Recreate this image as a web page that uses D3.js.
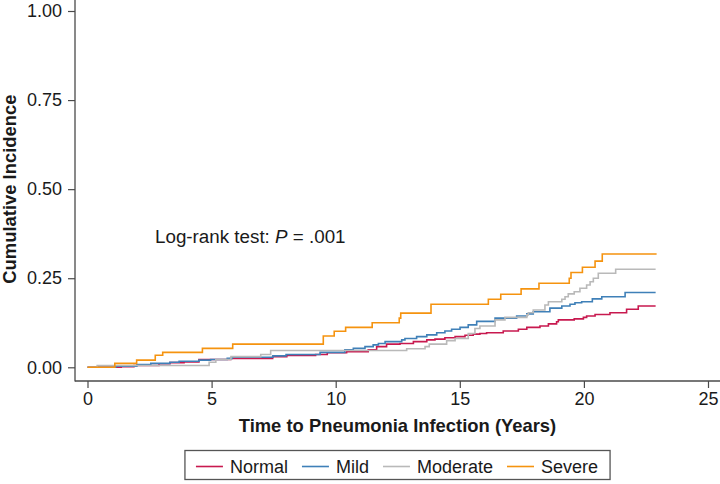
<!DOCTYPE html>
<html>
<head>
<meta charset="utf-8">
<script src="https://cdn.jsdelivr.net/npm/d3@7"></script>
<style>
  html, body { margin: 0; padding: 0; background: #fff; }
  svg { display: block; }
  text { font-family: "Liberation Sans", Arial, Helvetica, sans-serif; fill: #1a1a1a; }
</style>
</head>
<body>
<svg id="chart" width="720" height="484"></svg>
<script>
// ---- Data ----
const seriesNames = ["Normal", "Mild", "Moderate", "Severe"];
const seriesColors = ["#c8194f", "#3f80b8", "#b9b9b9", "#f5930f"];

const normalTimes  = [0, 1.36, 1.87, 2.88, 3.32, 3.89, 4.49, 5.77, 7.46, 8.03, 9.19, 9.66, 10.44, 11.31, 11.65, 12.05, 12.59, 13.13, 13.67, 14.00, 14.40, 14.81, 15.21, 15.54, 15.81, 16.08, 16.75, 17.36, 17.70, 18.23, 18.57, 18.90, 18.97, 19.61, 19.98, 20.11, 20.45, 21.05, 21.72, 22.19, 22.89];
const normalValues = [0, 0.002, 0.005, 0.010, 0.013, 0.015, 0.022, 0.025, 0.030, 0.033, 0.036, 0.041, 0.044, 0.049, 0.058, 0.065, 0.067, 0.072, 0.077, 0.079, 0.083, 0.086, 0.090, 0.093, 0.095, 0.097, 0.102, 0.107, 0.112, 0.116, 0.122, 0.128, 0.133, 0.136, 0.140, 0.144, 0.148, 0.153, 0.163, 0.172, 0.172];

const mildTimes  = [0, 1.14, 1.99, 2.55, 3.32, 3.69, 4.49, 4.96, 5.63, 5.83, 7.47, 8.00, 9.37, 10.37, 10.71, 11.18, 11.51, 11.72, 11.99, 12.66, 12.79, 13.26, 13.67, 14.07, 14.40, 14.67, 15.01, 15.34, 15.68, 16.42, 17.29, 17.70, 17.96, 18.63, 19.11, 19.44, 19.64, 19.91, 20.34, 20.72, 21.66, 22.89];
const mildValues = [0, 0.003, 0.008, 0.011, 0.014, 0.017, 0.020, 0.022, 0.025, 0.028, 0.032, 0.036, 0.042, 0.049, 0.053, 0.058, 0.063, 0.067, 0.072, 0.077, 0.081, 0.086, 0.091, 0.097, 0.102, 0.107, 0.112, 0.119, 0.129, 0.138, 0.144, 0.150, 0.156, 0.166, 0.172, 0.177, 0.181, 0.184, 0.192, 0.198, 0.210, 0.210];

const moderateTimes  = [0, 0.39, 4.90, 5.17, 5.78, 6.98, 7.38, 12.86, 13.60, 13.77, 14.47, 14.81, 15.34, 15.61, 15.81, 16.42, 16.82, 17.70, 17.76, 17.96, 18.43, 18.57, 19.11, 19.24, 19.37, 19.61, 19.84, 20.11, 20.25, 20.38, 20.58, 21.28, 22.89];
const moderateValues = [0, 0.005, 0.014, 0.022, 0.030, 0.036, 0.047, 0.052, 0.058, 0.065, 0.075, 0.081, 0.095, 0.109, 0.116, 0.133, 0.140, 0.147, 0.153, 0.161, 0.175, 0.184, 0.191, 0.198, 0.206, 0.212, 0.222, 0.231, 0.240, 0.250, 0.264, 0.275, 0.275];

const severeTimes  = [0, 1.10, 1.98, 2.73, 3.03, 4.63, 5.85, 9.50, 9.94, 10.40, 11.47, 12.56, 12.62, 13.84, 16.15, 16.65, 17.47, 18.19, 19.41, 19.48, 19.94, 20.45, 20.74, 22.93];
const severeValues = [0, 0.011, 0.020, 0.034, 0.042, 0.053, 0.065, 0.088, 0.101, 0.112, 0.125, 0.138, 0.152, 0.177, 0.191, 0.205, 0.220, 0.236, 0.250, 0.266, 0.281, 0.298, 0.318, 0.318];

const xTicks = [0, 5, 10, 15, 20, 25];
const yTicks = [0, 0.25, 0.5, 0.75, 1];
const xTitle = "Time to Pneumonia Infection (Years)";
const yTitle = "Cumulative Incidence";

// ---- Build series table ----
const seriesTimes = [normalTimes, mildTimes, moderateTimes, severeTimes];
const seriesValues = [normalValues, mildValues, moderateValues, severeValues];
const series = seriesNames.map((name, i) => ({
  name, color: seriesColors[i],
  points: seriesTimes[i].map((t, j) => ({ t, v: seriesValues[i][j] }))
}));

// ---- Layout ----
const svg = d3.select("#chart");
const frame = { left: 75, right: 720, top: 0, bottom: 381 };
const x = d3.scaleLinear().domain([0, 25]).range([87.5, 708]);
const y = d3.scaleLinear().domain([0, 1]).range([367.3, 11]);
const axisColor = "#4a4a4a";

// axis lines
svg.append("line").attr("x1", frame.left).attr("x2", frame.left)
  .attr("y1", frame.top).attr("y2", frame.bottom + 0.5)
  .attr("stroke", axisColor).attr("stroke-width", 1.3);
svg.append("line").attr("x1", frame.left).attr("x2", frame.right)
  .attr("y1", frame.bottom).attr("y2", frame.bottom)
  .attr("stroke", axisColor).attr("stroke-width", 1.3);

// y axis ticks
const yAxis = d3.axisLeft(y).tickValues(yTicks).tickFormat(d3.format(".2f"))
  .tickSize(7).tickPadding(6);
const gy = svg.append("g").attr("transform", `translate(${frame.left},0)`).call(yAxis);
gy.select(".domain").remove();
gy.selectAll(".tick line").attr("stroke", axisColor).attr("stroke-width", 1.2);
gy.selectAll(".tick text").attr("font-size", 18).attr("fill", "#1a1a1a")
  .attr("font-family", "Liberation Sans, Arial, sans-serif");

// x axis ticks
const xAxis = d3.axisBottom(x).tickValues(xTicks).tickFormat(d3.format("d"))
  .tickSize(7).tickPadding(4);
const gx = svg.append("g").attr("transform", `translate(0,${frame.bottom})`).call(xAxis);
gx.select(".domain").remove();
gx.selectAll(".tick line").attr("stroke", axisColor).attr("stroke-width", 1.2);
gx.selectAll(".tick text").attr("font-size", 18).attr("fill", "#1a1a1a")
  .attr("font-family", "Liberation Sans, Arial, sans-serif");

// axis titles
svg.append("text").attr("x", (frame.left + frame.right) / 2).attr("y", 432)
  .attr("text-anchor", "middle").attr("font-size", 18.4).attr("font-weight", "bold")
  .text(xTitle);
svg.append("text")
  .attr("transform", `translate(16,${(y(0) + y(1)) / 2}) rotate(-90)`)
  .attr("text-anchor", "middle").attr("font-size", 18.4).attr("font-weight", "bold")
  .text(yTitle);

// curves
const line = d3.line().x(d => x(d.t)).y(d => y(d.v)).curve(d3.curveStepAfter);
svg.append("g").selectAll("path").data(series).join("path")
  .attr("d", d => line(d.points))
  .attr("fill", "none")
  .attr("stroke", d => d.color)
  .attr("stroke-width", 1.6);

// annotation
const ann = svg.append("text").attr("x", 155).attr("y", 243).attr("font-size", 18.8);
ann.append("tspan").text("Log-rank test: ");
ann.append("tspan").attr("font-style", "italic").text("P");
ann.append("tspan").text(" = .001");

// legend
const legendCenter = (frame.left + frame.right) / 2;
const legY = 466.5;
const lg = svg.append("g");
const box = lg.append("rect").attr("fill", "#fff").attr("stroke", "#555").attr("stroke-width", 1.3);
let cx = 0;
series.forEach((s, i) => {
  const g = lg.append("g");
  g.append("line").attr("x1", cx).attr("x2", cx + 27).attr("y1", legY).attr("y2", legY)
    .attr("stroke", s.color).attr("stroke-width", 1.6);
  const t = g.append("text").attr("x", cx + 34).attr("y", legY).attr("dy", "0.35em")
    .attr("font-size", 18).text(s.name);
  const w = t.node().getComputedTextLength();
  cx += 34 + w + (i < series.length - 1 ? 14 : 0);
});
const padL = 11, padR = 12;
const totalW = cx + padL + padR;
const boxX = legendCenter - totalW / 2;
lg.selectAll("g").attr("transform", `translate(${boxX + padL},0)`);
box.attr("x", boxX).attr("y", 450.5).attr("width", totalW).attr("height", 29);
</script>
</body>
</html>
